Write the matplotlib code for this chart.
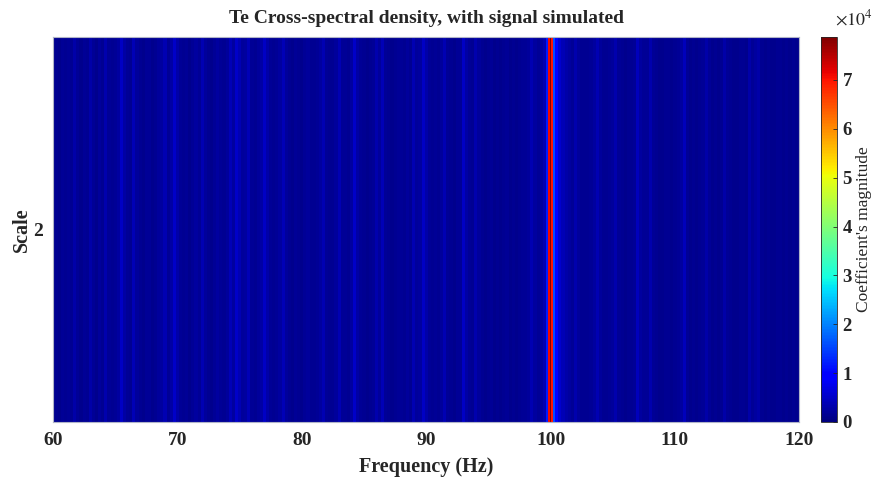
import numpy as np
import matplotlib
matplotlib.use("Agg")
import matplotlib.pyplot as plt

# 频率轴 (Hz)，每 0.25 Hz 一个点
freq_start = 60.0
freq_step = 0.25

# 系数幅值 (单位 1e4)，每行对应 1 Hz 内的 4 个点
magnitude_1e4 = [
    0.10, 0.15, 0.12, 0.18,   # 60
    0.14, 0.18, 0.15, 0.30,   # 61
    0.16, 0.12, 0.18, 0.15,   # 62
    0.30, 0.16, 0.12, 0.20,   # 63
    0.15, 0.32, 0.18, 0.14,   # 64
    0.16, 0.22, 0.48, 0.25,   # 65
    0.18, 0.15, 0.38, 0.20,   # 66
    0.14, 0.12, 0.16, 0.18,   # 67
    0.12, 0.15, 0.20, 0.22,   # 68
    0.35, 0.18, 0.25, 0.50,   # 69
    0.30, 0.18, 0.14, 0.16,   # 70
    0.12, 0.18, 0.22, 0.16,   # 71
    0.35, 0.20, 0.15, 0.12,   # 72
    0.16, 0.22, 0.18, 0.14,   # 73
    0.20, 0.38, 0.22, 0.50,   # 74
    0.35, 0.20, 0.22, 0.40,   # 75
    0.18, 0.15, 0.20, 0.25,   # 76
    0.48, 0.28, 0.16, 0.14,   # 77
    0.18, 0.22, 0.38, 0.20,   # 78
    0.15, 0.12, 0.18, 0.14,   # 79
    0.12, 0.16, 0.20, 0.15,   # 80
    0.14, 0.18, 0.22, 0.35,   # 81
    0.18, 0.15, 0.14, 0.20,   # 82
    0.35, 0.18, 0.16, 0.15,   # 83
    0.22, 0.50, 0.25, 0.16,   # 84
    0.14, 0.12, 0.15, 0.18,   # 85
    0.32, 0.20, 0.38, 0.18,   # 86
    0.14, 0.12, 0.15, 0.18,   # 87
    0.16, 0.14, 0.20, 0.15,   # 88
    0.35, 0.20, 0.22, 0.48,   # 89
    0.30, 0.16, 0.14, 0.18,   # 90
    0.15, 0.20, 0.35, 0.18,   # 91
    0.14, 0.12, 0.16, 0.18,   # 92
    0.48, 0.25, 0.16, 0.15,   # 93
    0.32, 0.20, 0.15, 0.12,   # 94
    0.14, 0.16, 0.12, 0.15,   # 95
    0.12, 0.14, 0.16, 0.12,   # 96
    0.15, 0.12, 0.14, 0.18,   # 97
    0.16, 0.20, 0.35, 0.22,   # 98
    0.18, 0.22, 0.35, 1.20,   # 99
    7.88, 1.60, 0.90, 0.55,   # 100
    0.40, 0.30, 0.22, 0.18,   # 101
    0.32, 0.20, 0.15, 0.14,   # 102
    0.15, 0.18, 0.22, 0.35,   # 103
    0.20, 0.15, 0.14, 0.16,   # 104
    0.20, 0.32, 0.18, 0.14,   # 105
    0.12, 0.15, 0.14, 0.18,   # 106
    0.42, 0.22, 0.16, 0.18,   # 107
    0.32, 0.18, 0.14, 0.12,   # 108
    0.12, 0.14, 0.15, 0.12,   # 109
    0.14, 0.16, 0.22, 0.42,   # 110
    0.18, 0.12, 0.14, 0.12,   # 111
    0.15, 0.16, 0.30, 0.18,   # 112
    0.12, 0.14, 0.12, 0.15,   # 113
    0.30, 0.18, 0.14, 0.12,   # 114
    0.12, 0.14, 0.15, 0.12,   # 115
    0.30, 0.18, 0.22, 0.28,   # 116
    0.15, 0.12, 0.14, 0.12,   # 117
    0.12, 0.15, 0.14, 0.12,   # 118
    0.14, 0.12, 0.15, 0.12,   # 119
    0.12,                     # 120
]

# 100 Hz 附近的细分点 (峰值两侧)
peak_freq = [99.875, 100.125]
peak_mag_1e4 = [7.1, 7.0]

scale_value = 2
x_ticks = [60, 70, 80, 90, 100, 110, 120]
cbar_ticks = [0, 1, 2, 3, 4, 5, 6, 7]

# 组合数据
freq = freq_start + freq_step * np.arange(len(magnitude_1e4))
freq = np.concatenate([freq, peak_freq])
mag = np.concatenate([magnitude_1e4, peak_mag_1e4]) * 1e4
order = np.argsort(freq)
freq = freq[order]
mag = mag[order]

plt.rcParams['font.family'] = ['Liberation Serif', 'DejaVu Serif']
plt.rcParams['mathtext.fontset'] = 'stix'
text_color = '#262626'

fig = plt.figure(figsize=(8.76, 4.79), dpi=100)
ax = fig.add_axes([0.0605, 0.119, 0.852, 0.804])
cax = fig.add_axes([0.937, 0.119, 0.0183, 0.804])

mesh = ax.pcolormesh(freq, [scale_value - 0.5, scale_value + 0.5],
                     np.vstack([mag, mag]), cmap='jet',
                     vmin=0, vmax=mag.max(), shading='nearest')
ax.set_xlim(60, 120)
ax.set_ylim(scale_value - 0.5, scale_value + 0.5)
ax.set_xticks(x_ticks)
ax.set_yticks([scale_value])
ax.tick_params(direction='in', length=0, labelsize=14, colors=text_color, pad=7)
for lab in ax.get_xticklabels() + ax.get_yticklabels():
    lab.set_fontweight('bold')
for s in ax.spines.values():
    s.set_color('#b0b4c8')
    s.set_linewidth(0.8)

ax.set_title("Te Cross-spectral density, with signal simulated",
             fontsize=14, fontweight='bold', color=text_color, pad=10)
ax.set_xlabel("Frequency (Hz)", fontsize=14.5, fontweight='bold', color=text_color, labelpad=6)
ax.set_ylabel("Scale", fontsize=14.5, fontweight='bold', color=text_color, labelpad=1)

cb = fig.colorbar(mesh, cax=cax)
cb.set_ticks([t * 1e4 for t in cbar_ticks])
cb.set_ticklabels([str(t) for t in cbar_ticks])
cax.tick_params(direction='in', length=3, labelsize=13.5, colors=text_color, width=0.6, pad=4)
for lab in cax.get_yticklabels():
    lab.set_fontweight('bold')
cb.outline.set_edgecolor(text_color)
cb.outline.set_linewidth(0.6)
cb.set_label("Coefficient's magnitude", fontsize=12.5, color=text_color, labelpad=3)
cax.text(0.9, 1.02, r"$\times10^{4}$", transform=cax.transAxes, fontsize=13,
         color=text_color, ha='left', va='bottom')

fig.savefig("out.png", dpi=100)
